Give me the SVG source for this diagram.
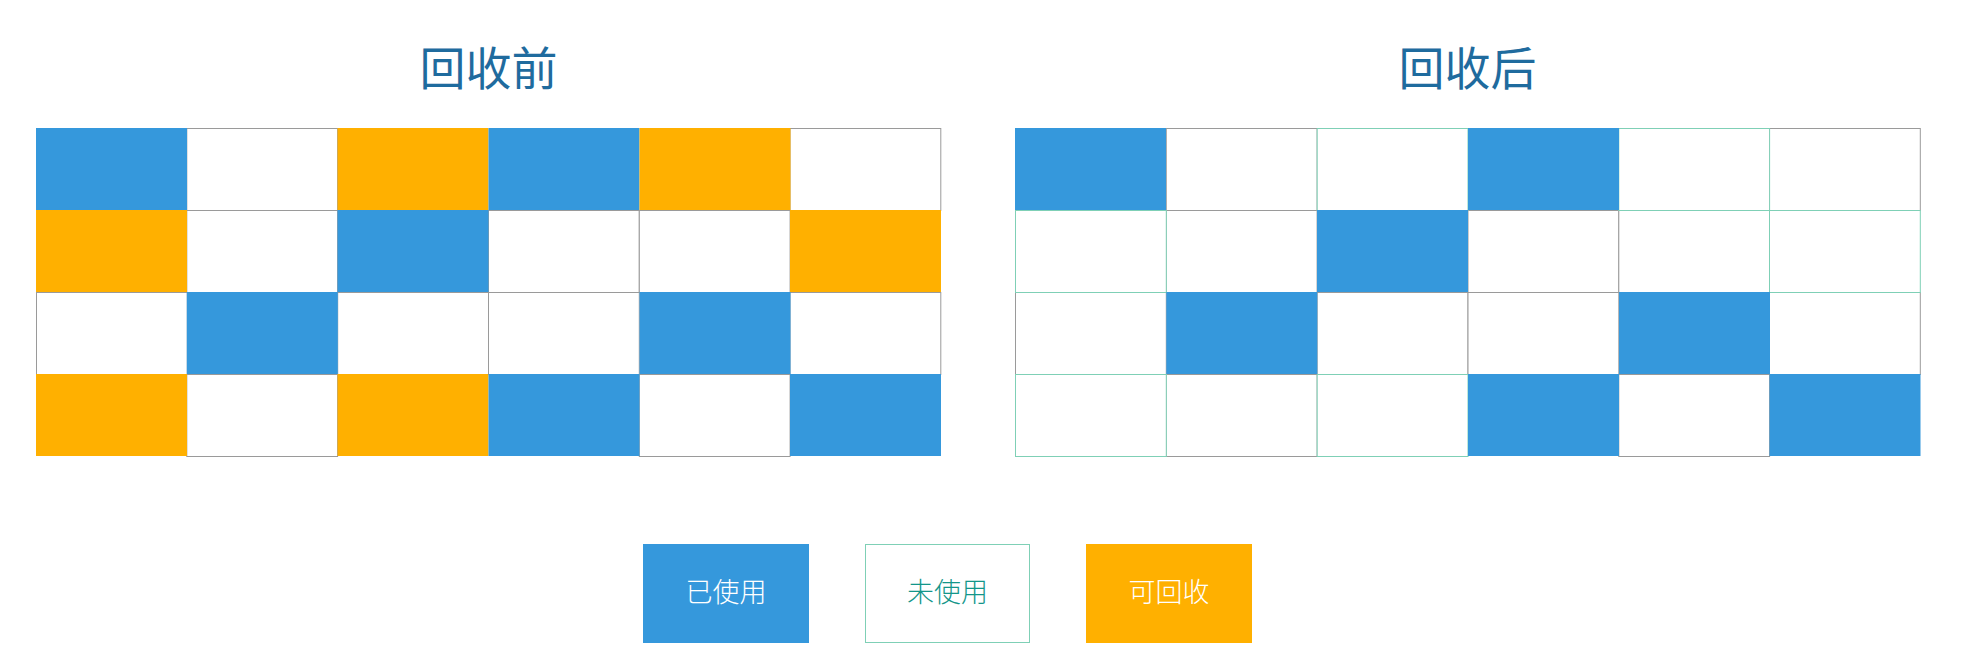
<svg xmlns="http://www.w3.org/2000/svg" width="1966" height="658" viewBox="0 0 1966 658">
<style>
.title{font-family:"Noto Sans CJK SC","Noto Sans",sans-serif;font-size:46px;fill:#1f6b9e;text-anchor:middle}
.w{fill:#ffffff;stroke:#9a9a9a;stroke-width:1}
.t{fill:#ffffff;stroke:#7fd0b6;stroke-width:1}
.b{fill:#3598dc}
.o{fill:#ffb000}
.lt{font-family:"Noto Sans CJK SC","Noto Sans",sans-serif;font-size:27px;font-weight:300;text-anchor:middle}
</style>
<rect width="1966" height="658" fill="#ffffff"/>
<g id="title-before"><text class="title" x="488.5" y="85">回收前</text></g>
<g id="title-after"><text class="title" x="1467.5" y="85">回收后</text></g>
<g id="grid-before">
<rect class="w" x="186.8" y="128.5" width="150.8" height="82"/>
<rect class="w" x="790" y="128.5" width="150.8" height="82"/>
<rect class="w" x="186.8" y="210.5" width="150.8" height="82"/>
<rect class="w" x="488.5" y="210.5" width="150.8" height="82"/>
<rect class="w" x="639.3" y="210.5" width="150.8" height="82"/>
<rect class="w" x="36.5" y="292.5" width="150.8" height="82"/>
<rect class="w" x="337.7" y="292.5" width="150.8" height="82"/>
<rect class="w" x="488.5" y="292.5" width="150.8" height="82"/>
<rect class="w" x="790" y="292.5" width="150.8" height="82"/>
<rect class="w" x="186.8" y="374.5" width="150.8" height="82"/>
<rect class="w" x="639.3" y="374.5" width="150.8" height="82"/>
<rect class="b" x="36" y="128" width="151" height="82"/>
<rect class="o" x="337.5" y="128" width="151" height="82"/>
<rect class="b" x="488.5" y="128" width="151" height="82"/>
<rect class="o" x="639.5" y="128" width="151" height="82"/>
<rect class="o" x="36" y="210" width="151" height="82"/>
<rect class="b" x="337.5" y="210" width="151" height="82"/>
<rect class="o" x="790" y="210" width="151" height="82"/>
<rect class="b" x="186.8" y="292" width="151" height="82"/>
<rect class="b" x="639.5" y="292" width="151" height="82"/>
<rect class="o" x="36" y="374" width="151" height="82"/>
<rect class="o" x="337.5" y="374" width="151" height="82"/>
<rect class="b" x="488.5" y="374" width="151" height="82"/>
<rect class="b" x="790" y="374" width="151" height="82"/>
</g>
<g id="grid-after">
<rect class="w" x="1166.3" y="128.5" width="150.8" height="82"/>
<rect class="w" x="1769.5" y="128.5" width="150.8" height="82"/>
<rect class="w" x="1166.3" y="210.5" width="150.8" height="82"/>
<rect class="w" x="1468" y="210.5" width="150.8" height="82"/>
<rect class="w" x="1618.8" y="210.5" width="150.8" height="82"/>
<rect class="w" x="1015.5" y="292.5" width="150.8" height="82"/>
<rect class="w" x="1317.2" y="292.5" width="150.8" height="82"/>
<rect class="w" x="1468" y="292.5" width="150.8" height="82"/>
<rect class="w" x="1769.5" y="292.5" width="150.8" height="82"/>
<rect class="w" x="1166.3" y="374.5" width="150.8" height="82"/>
<rect class="w" x="1618.8" y="374.5" width="150.8" height="82"/>
<rect class="t" x="1317.2" y="128.5" width="150.8" height="82"/>
<rect class="t" x="1618.8" y="128.5" width="150.8" height="82"/>
<rect class="t" x="1015.5" y="210.5" width="150.8" height="82"/>
<rect class="t" x="1769.5" y="210.5" width="150.8" height="82"/>
<rect class="t" x="1015.5" y="374.5" width="150.8" height="82"/>
<rect class="t" x="1317.2" y="374.5" width="150.8" height="82"/>
<rect class="b" x="1015" y="128" width="151" height="82"/>
<rect class="b" x="1468" y="128" width="151" height="82"/>
<rect class="b" x="1317" y="210" width="151" height="82"/>
<rect class="b" x="1166.3" y="292" width="151" height="82"/>
<rect class="b" x="1619" y="292" width="151" height="82"/>
<rect class="b" x="1468" y="374" width="151" height="82"/>
<rect class="b" x="1769.5" y="374" width="151" height="82"/>
</g>
<g id="legend-used">
<rect class="b" x="643" y="544" width="166" height="99"/>
<text class="lt" x="726" y="602" fill="#ffffff">已使用</text>
</g>
<g id="legend-unused">
<rect class="t" x="865.5" y="544.5" width="164" height="98"/>
<text class="lt" x="947.5" y="602" fill="#13968a">未使用</text>
</g>
<g id="legend-recyclable">
<rect class="o" x="1086" y="544" width="166" height="99"/>
<text class="lt" x="1169" y="602" fill="#ffffff">可回收</text>
</g>
</svg>
